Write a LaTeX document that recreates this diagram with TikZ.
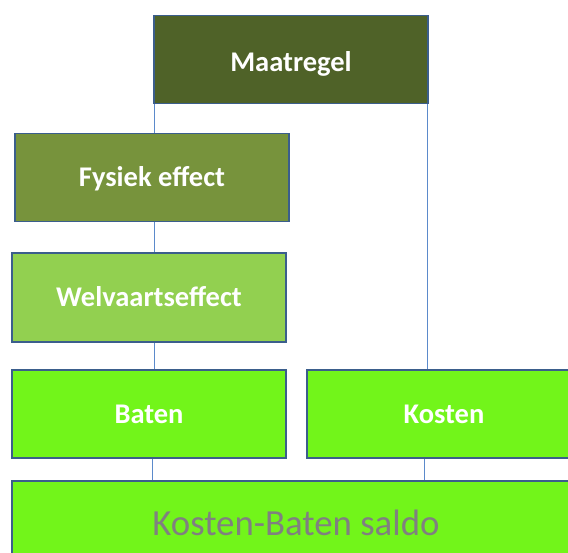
\documentclass[tikz,border=0pt]{standalone}
\usepackage{fontspec}
\setmainfont{Carlito}
\definecolor{bordc}{HTML}{3B5E8C}
\definecolor{linec}{HTML}{5B8ACB}
\definecolor{cMaat}{HTML}{4F6228}
\definecolor{cFys}{HTML}{77933C}
\definecolor{cWel}{HTML}{92D050}
\definecolor{cLime}{HTML}{72F51A}
\definecolor{cGrey}{HTML}{808080}
\begin{document}
\begin{tikzpicture}[x=1pt,y=-1pt,
  box/.style={draw=bordc,line width=1.6pt,minimum width=274pt,minimum height=88pt,
    inner sep=0pt,text=white,font=\fontsize{28.5}{32}\selectfont\bfseries,
    text height=18.5pt,text depth=0pt},
  conn/.style={draw=linec,line width=1pt}]
\useasboundingbox (0,0) rectangle (568,552);
\clip (0,0) rectangle (568,552);
\node[box,fill=cMaat] (m) at (291,59.5) {\raisebox{-2.5pt}{Maatregel}};
\node[box,fill=cFys] (f) at (152,177.5) {Fysiek effect};
\node[box,fill=cWel,minimum height=89pt] (w) at (149,297.5) {Welvaartseffect};
\node[box,fill=cLime] (b) at (149,414) {Baten};
\node[box,fill=cLime] (k) at (444,414) {Kosten};
\node[box,fill=cLime,minimum width=568pt,minimum height=83pt,text=cGrey,
  font=\fontsize{36.8}{40}\selectfont\mdseries,text height=25pt] (s) at (296,522.5) {Kosten-Baten saldo};
\coordinate (m1) at ([xshift=1pt]m.south west);
\coordinate (m2) at ([xshift=-1pt]m.south east);
\draw[conn] (m1) -- (m1 |- f.north);
\coordinate (f1) at ([xshift=2pt]f.south);
\draw[conn] (f1) -- (f1 |- w.north);
\coordinate (w1) at ([xshift=5pt]w.south);
\draw[conn] (w1) -- (w1 |- b.north);
\coordinate (b1) at ([xshift=3pt]b.south);
\draw[conn] (b1) -- (b1 |- s.north);
\draw[conn] (m2) -- (m2 |- k.north);
\coordinate (k1) at ([xshift=-20pt]k.south);
\draw[conn] (k1) -- (k1 |- s.north);
\end{tikzpicture}
\end{document}
